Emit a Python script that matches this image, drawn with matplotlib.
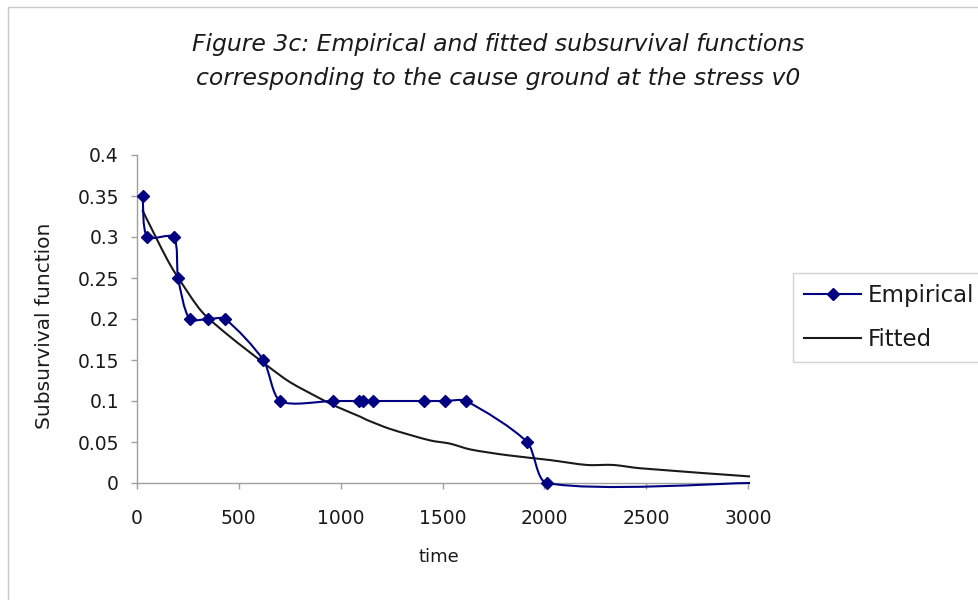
import numpy as np
import matplotlib
matplotlib.use("Agg")
import matplotlib.pyplot as plt
from matplotlib.path import Path
from matplotlib.patches import PathPatch, Rectangle
from matplotlib.lines import Line2D

# ---- data ----
emp_time = [28, 50, 180, 202, 258, 351, 432, 620, 704, 963, 1090, 1109, 1159,
            1409, 1512, 1615, 1915, 2013, 3010]
emp_value = [0.35, 0.30, 0.30, 0.25, 0.20, 0.20, 0.20, 0.15, 0.10, 0.10, 0.10,
             0.10, 0.10, 0.10, 0.10, 0.10, 0.05, 0.0, 0.0]
fit_time = [26, 88, 154, 203, 318, 449, 645, 751, 915, 981, 1095, 1128, 1242,
            1438, 1537, 1635, 1815, 2027, 2208, 2338, 2469, 3010]
fit_value = [0.333, 0.302, 0.270, 0.250, 0.209, 0.180, 0.142, 0.123, 0.101,
             0.093, 0.081, 0.077, 0.066, 0.052, 0.048, 0.041, 0.034, 0.028,
             0.022, 0.022, 0.018, 0.008]
x_ticks = [0, 500, 1000, 1500, 2000, 2500, 3000]
y_ticks = [0, 0.05, 0.1, 0.15, 0.2, 0.25, 0.3, 0.35, 0.4]
y_tick_labels = ["0", "0.05", "0.1", "0.15", "0.2", "0.25", "0.3", "0.35", "0.4"]
title_lines = ["Figure 3c: Empirical and fitted subsurvival functions",
               "corresponding to the cause ground at the stress v0"]
series_names = ["Empirical", "Fitted"]

EMP_COLOR = "#000080"
FIT_COLOR = "#1a1a1a"
AX_COLOR = "#a0a0a0"
TXT = "#1a1a1a"


def smooth_path(ax, x, y, k=0.27):
    """Excel-like smoothed line: cubic Bezier whose tangents are weighted
    by the on-screen lengths of the neighbouring segments."""
    pts = np.column_stack([x, y]).astype(float)
    disp = ax.transData.transform(pts)
    n = len(pts)
    seg = np.hypot(*(np.diff(disp, axis=0).T))  # length of each segment (px)
    c_out = [None] * n
    c_in = [None] * n
    for i in range(n):
        if i == 0:
            c_out[i] = pts[0] + (pts[1] - pts[0]) * k * 0.5
            continue
        if i == n - 1:
            c_in[i] = pts[i] - (pts[i] - pts[i - 1]) * k * 0.5
            continue
        tan = pts[i + 1] - pts[i - 1]
        a, b = seg[i - 1], seg[i]
        c_out[i] = pts[i] + tan * k * b / (a + b)
        c_in[i] = pts[i] - tan * k * a / (a + b)
    verts = [pts[0]]
    codes = [Path.MOVETO]
    for i in range(n - 1):
        verts += [c_out[i], c_in[i + 1], pts[i + 1]]
        codes += [Path.CURVE4] * 3
    return Path(verts, codes)


plt.rcParams['font.family'] = ['DejaVu Sans']

W, H = 979, 600
fig = plt.figure(figsize=(W / 100, H / 100), dpi=100)
fig.patch.set_facecolor("white")

# outer chart border (partially cropped)
fig.patches.append(Rectangle((8 / W, -0.5), 2.0, (1 - 7 / H) + 0.5,
                             transform=fig.transFigure, fill=False,
                             edgecolor="#c8c8c8", lw=1.0))

ax = fig.add_axes([137 / W, 1 - 483 / H, (748 - 137) / W, (483 - 155) / H])
ax.set_xlim(0, 3000)
ax.set_ylim(0, 0.4)

# fitted line
ax.add_patch(PathPatch(smooth_path(ax, fit_time, fit_value), fill=False,
                       edgecolor=FIT_COLOR, lw=1.5, clip_on=False, zorder=2))
# empirical line + markers
ax.add_patch(PathPatch(smooth_path(ax, emp_time, emp_value), fill=False,
                       edgecolor=EMP_COLOR, lw=1.5, clip_on=False, zorder=3))
ax.plot(emp_time[:-1], emp_value[:-1], ls="none", marker="D", ms=6.5,
        color=EMP_COLOR, clip_on=False, zorder=4)

for s in ["top", "right"]:
    ax.spines[s].set_visible(False)
for s in ["left", "bottom"]:
    ax.spines[s].set_color(AX_COLOR)
    ax.spines[s].set_linewidth(1.0)

ax.set_xticks(x_ticks)
ax.set_xticklabels([str(t) for t in x_ticks])
ax.set_yticks(y_ticks)
ax.set_yticklabels(y_tick_labels)
ax.tick_params(axis="both", colors=AX_COLOR, labelcolor=TXT, labelsize=13.5,
               length=4, width=1.0, direction="out")
ax.tick_params(axis="x", pad=15)
ax.tick_params(axis="y", pad=9)

fig.text(45 / W, 1 - 326 / H, "Subsurvival function", rotation=90,
         ha="center", va="center", fontsize=14.5, color=TXT)
fig.text(439 / W, 1 - 557 / H, "time", ha="center", va="center",
         fontsize=13, color=TXT)

fig.text(498 / W, 1 - 45 / H, title_lines[0], ha="center", va="center",
         fontsize=16.9, fontstyle="italic", color=TXT)
fig.text(498 / W, 1 - 78 / H, title_lines[1], ha="center", va="center",
         fontsize=16.9, fontstyle="italic", color=TXT)

handles = [Line2D([], [], color=EMP_COLOR, lw=1.5, marker="D", ms=6.5),
           Line2D([], [], color=FIT_COLOR, lw=1.5)]
leg = fig.legend(handles, series_names, loc="upper left",
                 bbox_to_anchor=(793 / W, 1 - 273 / H),
                 fontsize=16.5, frameon=True, fancybox=False, shadow=False,
                 edgecolor="#c8c8c8", handlelength=2.45, handletextpad=0.3,
                 labelspacing=0.88, borderpad=0.5, borderaxespad=0)
leg.get_frame().set_linewidth(1.0)
for t in leg.get_texts():
    t.set_color(TXT)

fig.savefig("out.png", dpi=100, facecolor="white")
